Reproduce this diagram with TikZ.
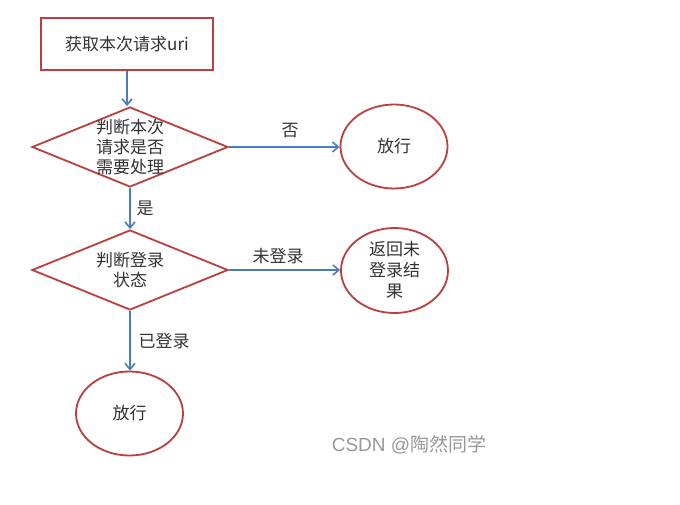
\documentclass[tikz,border=0pt]{standalone}
\usepackage{fontspec}
\setmainfont{Noto Sans CJK SC}
\newfontfamily\latinsans{Liberation Sans}
\usetikzlibrary{shapes.geometric,arrows.meta}
\definecolor{boxred}{HTML}{B9403E}
\definecolor{arrowblue}{HTML}{4A7EBB}
\definecolor{txt}{HTML}{333333}
\begin{document}
\begin{tikzpicture}[x=1pt,y=-1pt,
  shapeline/.style={draw=boxred,line width=1.8pt,text=txt,font=\fontsize{17}{21}\selectfont,align=center,inner sep=0pt},
  procbox/.style={shapeline,rectangle,minimum width=172pt,minimum height=52pt},
  decbox/.style={shapeline,diamond,aspect=2.45,minimum width=196pt,minimum height=80pt},
  dectext/.style={text=txt,font=\fontsize{17}{20}\selectfont,align=center,inner sep=0pt},
  termbox/.style={shapeline,ellipse,minimum width=107pt,minimum height=84pt},
  flow/.style={draw=arrowblue,line width=1.6pt,-{Straight Barb[length=6pt,width=10pt]}},
  lbl/.style={text=txt,font=\fontsize{17}{21}\selectfont,inner sep=1pt}]
\useasboundingbox (0,0) rectangle (680,505);
\fill[white] (0,0) rectangle (680,505);
\node[procbox] (start) at (127,44) {获取本次请求uri};
\node[decbox,label={[dectext]center:判断本次\\请求是否\\需要处理}] (d1) at (130,147) {};
\node[termbox] (e1) at (394,146.5) {放行};
\node[decbox,label={[dectext]center:判断登录\\状态}] (d2) at (130,270) {};
\node[termbox,minimum height=85pt] (e2) at (394.5,270.5) {返回未\\登录结\\果};
\node[termbox] (e3) at (129.5,413.5) {放行};
\draw[flow] (start.south) -- (start.south |- d1.north);
\draw[flow] (d1.east) -- (e1.west |- d1.east);
\draw[flow] (d1.south) -- (d2.north);
\draw[flow] (d2.east) -- (e2.west |- d2.east);
\draw[flow] (d2.south) -- (e3.north -| d2.south);
\node[lbl] (l1) at (290,131) {否};
\node[lbl] (l2) at (145,208) {是};
\node[lbl] (l3) at (278,256) {未登录};
\node[lbl] (l4) at (164,341) {已登录};
\node[text=black!40,font=\fontsize{19}{23}\selectfont] (wm) at (409,445) {{\latinsans CSDN @}陶然同学};
\end{tikzpicture}
\end{document}
